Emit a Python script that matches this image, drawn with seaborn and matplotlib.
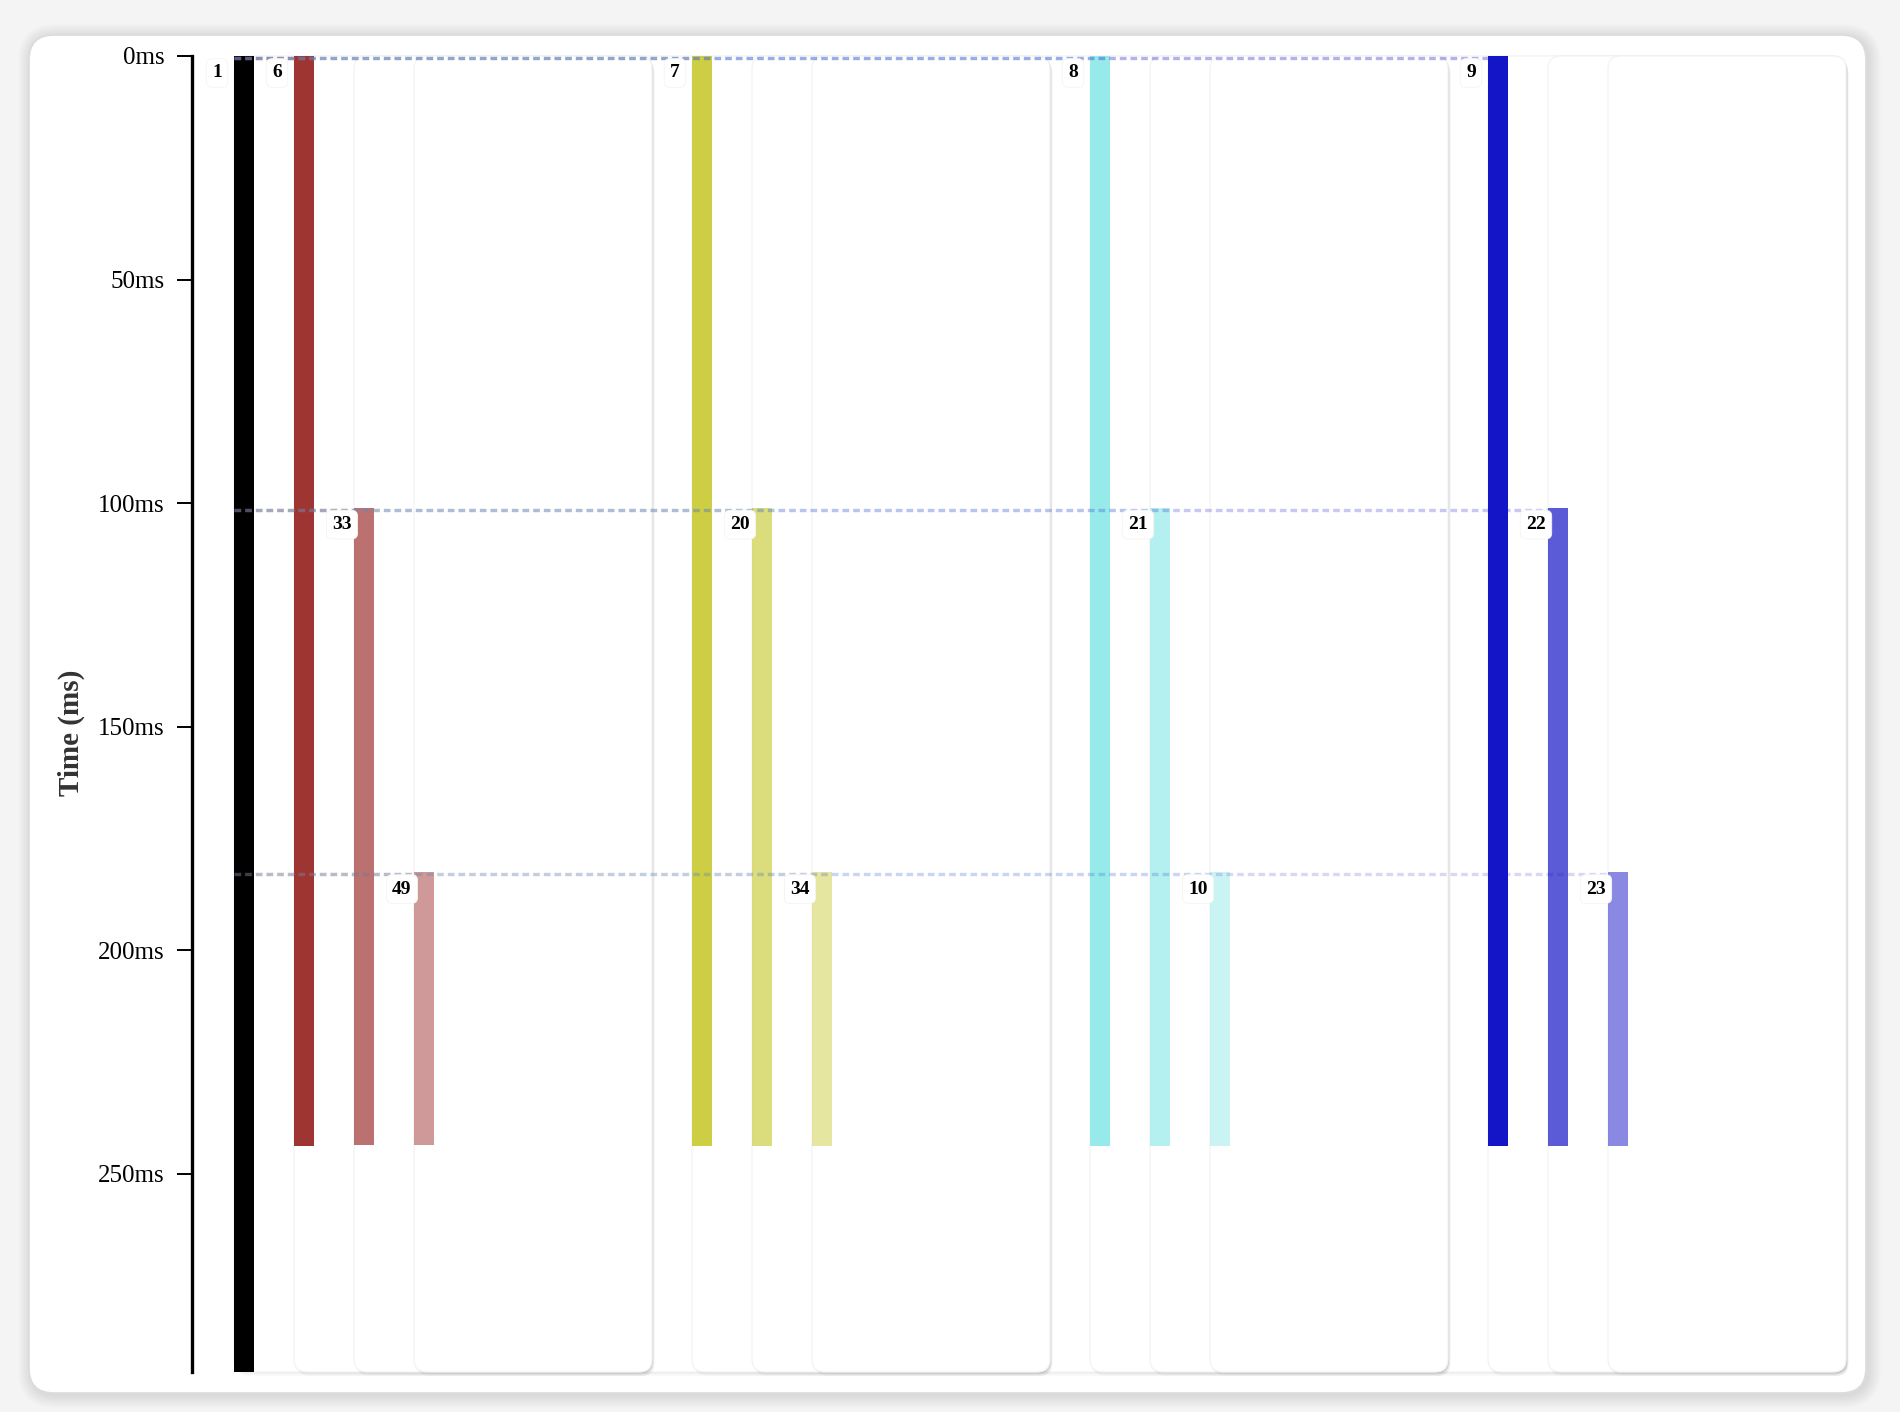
import numpy as np
import pandas as pd
import seaborn as sns
import matplotlib.pyplot as plt
from matplotlib.patches import FancyBboxPatch
from matplotlib.transforms import IdentityTransform

### span data
span_ids = ["1", "6", "33", "49", "7", "20", "34", "8", "21", "10", "9", "22", "23"]
parent_ids = ["", "1", "6", "33", "1", "7", "20", "1", "8", "21", "1", "9", "22"]
start_ms = [0, 0, 101, 182.5, 0, 101, 182.5, 0, 101, 182.5, 0, 101, 182.5]
end_ms = [294.3, 243.7, 243.5, 243.5, 243.7, 243.7, 243.7, 243.7, 243.7, 243.7, 243.7, 243.7, 243.7]
group_colors = ["#9e3532", "#cdce43", "#96eaea", "#1515c8"]
depth_alpha = [1.0, 0.7, 0.5]
tick_ms = [0, 50, 100, 150, 200, 250]
tick_labels = [f"{t}ms" for t in tick_ms]

spans = pd.DataFrame({"id": span_ids, "parent": parent_ids, "start": start_ms, "end": end_ms})

# depth / group from the parent chain
lookup = dict(zip(span_ids, parent_ids))
def chain(s):
    out = []
    while lookup[s] != "":
        out.append(s)
        s = lookup[s]
    return out
spans["depth"] = [len(chain(s)) - 1 for s in span_ids]
top_level = [s for s in span_ids if lookup.get(s) == span_ids[0]]
spans["group"] = [top_level.index(chain(s)[-1]) if lookup[s] != "" else -1 for s in span_ids]

# layout (pixels)
W, H = 1900, 1412
AX_L, AX_T, AX_B, AX_R = 192, 56, 1372, 1866
ROOT_X, GROUP_X0, GROUP_STEP, GROUP_W, DEPTH_STEP, BAR_W = 42, 102, 398, 358, 60, 19.5
y_max = spans["end"].max()
MS_PX = (AX_B - AX_T) / y_max

spans["x"] = [ROOT_X if g < 0 else GROUP_X0 + GROUP_STEP * g + DEPTH_STEP * d
              for g, d in zip(spans["group"], spans["depth"])]
spans["right"] = [GROUP_X0 + GROUP_STEP * (len(top_level) - 1) + GROUP_W if g < 0
                  else GROUP_X0 + GROUP_STEP * g + GROUP_W for g in spans["group"]]
spans["color"] = ["#000000" if g < 0 else group_colors[g] for g in spans["group"]]
spans["alpha"] = [1.0 if g < 0 else depth_alpha[d] for g, d in zip(spans["group"], spans["depth"])]

sns.set_theme(style="white")
plt.rcParams["font.family"] = ["Liberation Serif", "DejaVu Serif"]

fig = plt.figure(figsize=(W / 100, H / 100), dpi=100)
fig.patch.set_facecolor("#f4f4f4")

# card with soft shadow
cx0, cy0, cx1, cy1 = 29, H - 1393, 1866, H - 35
for k in range(1, 14):
    fig.add_artist(FancyBboxPatch((cx0 - k + 2, cy0 - k - 2), cx1 - cx0 + 2 * k, cy1 - cy0 + 2 * k,
                                  boxstyle=f"round,pad=0,rounding_size={25 + k}",
                                  fc="black", ec="none", alpha=0.006, transform=IdentityTransform(), zorder=-10))
fig.add_artist(FancyBboxPatch((cx0, cy0), cx1 - cx0, cy1 - cy0, boxstyle="round,pad=0,rounding_size=25",
                              fc="white", ec="#dcdcdc", lw=1.2, transform=IdentityTransform(), zorder=-5))

ax = fig.add_axes([AX_L / W, (H - AX_B) / H, (AX_R - AX_L) / W, (AX_B - AX_T) / H])
ax.set_facecolor("none")
ax.set_xlim(0, AX_R - AX_L)
ax.set_ylim(y_max, 0)

# panels behind every span
for _, r in spans.iterrows():
    for off, a in [(4, 0.018), (2.5, 0.025), (1.2, 0.03)]:
        ax.add_patch(FancyBboxPatch((r["x"] + off * 0.6, off / MS_PX), r["right"] - r["x"], y_max,
                                    boxstyle="round,pad=0,rounding_size=13", mutation_aspect=1 / MS_PX,
                                    fc="black", ec="none", alpha=a, clip_on=False, zorder=1))
    ax.add_patch(FancyBboxPatch((r["x"], 0), r["right"] - r["x"], y_max,
                                boxstyle="round,pad=0,rounding_size=13", mutation_aspect=1 / MS_PX,
                                fc="white", ec="#f2f2f2", lw=0.8, clip_on=False, zorder=1))

# bars
for _, r in spans.iterrows():
    ax.bar(r["x"], r["end"] - r["start"], bottom=r["start"], width=BAR_W, align="edge",
           color=r["color"], alpha=r["alpha"], linewidth=0, zorder=3)

# dashed connectors from root to each child start
root_x = spans["x"].iloc[0]
for _, r in spans.iloc[1:].iterrows():
    ax.plot([root_x, r["x"]], [r["start"] + 0.45, r["start"] + 0.45], ls=(0, (2.0, 1.2)), lw=2.4,
            color=r["color"], alpha=0.33 * r["alpha"], dash_capstyle="butt", clip_on=False, zorder=4)

# span labels
for _, r in spans.iterrows():
    ax.text(r["x"] - 17 + 5 * (len(r["id"]) - 1), r["start"] + 3.8, r["id"], ha="center", va="center",
            fontsize=14, fontweight="bold", color="black", zorder=5,
            bbox=dict(boxstyle="round,pad=0.3,rounding_size=0.3", fc="white", ec="#f4f4f4", lw=0.6))

ax.set_yticks(tick_ms)
ax.set_yticklabels(tick_labels)
ax.set_xticks([])
ax.tick_params(axis="y", length=10.5, width=1.4, pad=9, labelsize=18, colors="black", left=True)
sns.despine(ax=ax, top=True, right=True, bottom=True)
ax.spines["left"].set_linewidth(2.4)
ax.spines["left"].set_color("black")
ax.set_ylabel("Time (ms)", fontsize=21, fontweight="bold", color="#333333")
ax.yaxis.set_label_coords(-0.064, 0.486)

fig.savefig("out.png", dpi=100, facecolor=fig.get_facecolor())
